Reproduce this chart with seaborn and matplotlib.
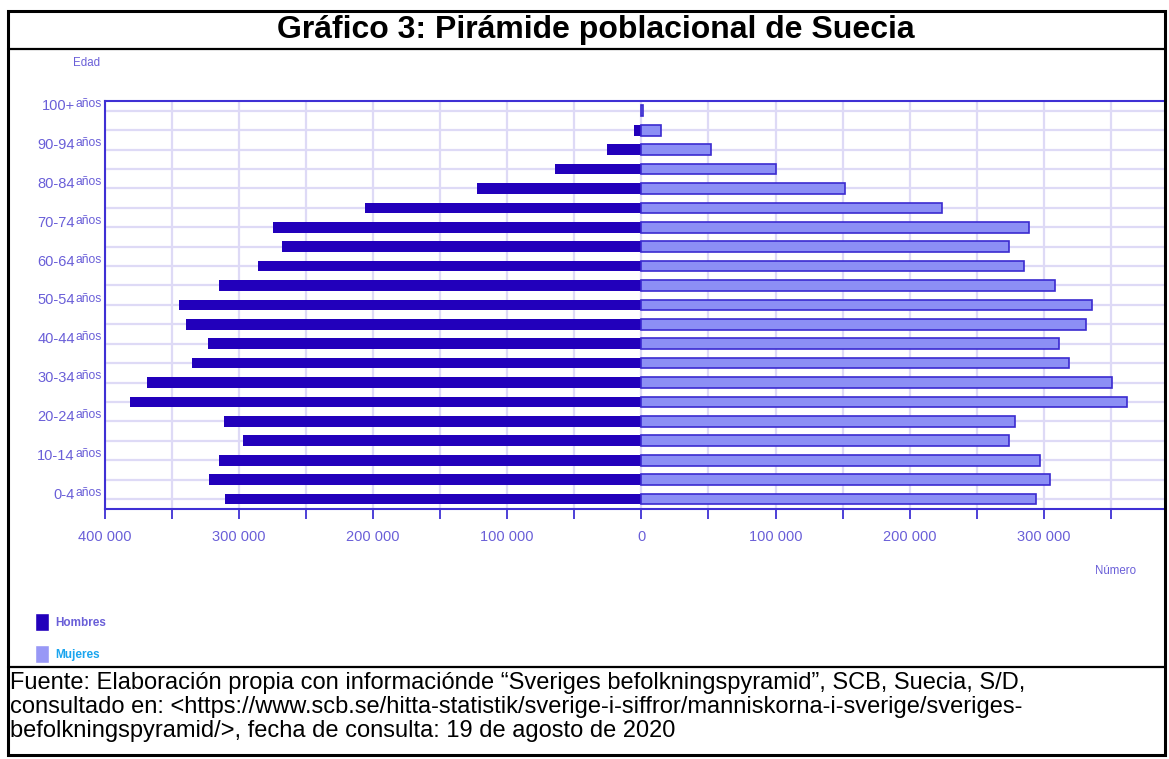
import pandas as pd
import seaborn as sns
import matplotlib.pyplot as plt
from matplotlib.patches import Patch, Rectangle
from matplotlib.lines import Line2D
from matplotlib.ticker import MultipleLocator, FuncFormatter
from matplotlib.transforms import ScaledTranslation

# data (persons per age group)
age_groups = ['0-4', '5-9', '10-14', '15-19', '20-24', '25-29', '30-34', '35-39',
              '40-44', '45-49', '50-54', '55-59', '60-64', '65-69', '70-74',
              '75-79', '80-84', '85-89', '90-94', '95-99', '100+']
men = [310400, 321900, 314400, 296600, 311200, 381200, 368100, 335000,
       323100, 339000, 344700, 314400, 285400, 267500, 274200,
       206200, 122400, 64300, 25600, 5700, 400]
women = [294300, 304600, 297300, 274000, 278500, 362100, 350800, 318900,
         311400, 331000, 335500, 308600, 285200, 274000, 288700,
         224000, 152000, 100200, 52000, 15000, 1600]

title = 'Gráfico 3: Pirámide poblacional de Suecia'
source_lines = [
    'Fuente: Elaboración propia con informaciónde “Sveriges befolkningspyramid”, SCB, Suecia, S/D,',
    'consultado en: <https://www.scb.se/hitta-statistik/sverige-i-siffror/manniskorna-i-sverige/sveriges-',
    'befolkningspyramid/>, fecha de consulta: 19 de agosto de 2020',
]

MEN = '#2200bb'
WOMEN = '#8c8ff5'
WOMEN_EDGE = '#3b2bd0'
SPINE = '#3f30d4'
GRID = '#dedaf6'
TXT = '#6a5fd8'

sns.set_style('white')
plt.rcParams['font.family'] = ['Liberation Sans', 'DejaVu Sans']

W, H = 1169, 759
fig = plt.figure(figsize=(W / 100, H / 100), dpi=100)


def fx(px):
    return px / W


def fy(py):
    return 1 - py / H


ax = fig.add_axes([fx(104.5), fy(509.3), (1164.7 - 104.5) / W, (509.3 - 100.7) / H])

df = pd.DataFrame({'Edad': age_groups, 'Hombres': men, 'Mujeres': women})
df['Hombres_neg'] = -df['Hombres']
order = age_groups[::-1]

sns.barplot(data=df, x='Hombres_neg', y='Edad', order=order, orient='h',
            color=MEN, saturation=1, width=0.55, linewidth=0, ax=ax)
sns.barplot(data=df, x='Mujeres', y='Edad', order=order, orient='h',
            color=WOMEN, saturation=1, width=0.55, linewidth=1.2,
            edgecolor=WOMEN_EDGE, ax=ax)

ax.set_xlim(-400000, 390000)
ax.set_ylim(len(order) - 0.47, -0.52)
ax.set_xlabel('')
ax.set_ylabel('')

ax.xaxis.set_major_locator(MultipleLocator(50000))
ax.xaxis.set_major_formatter(FuncFormatter(
    lambda v, p: f"{abs(int(round(v))):,}".replace(',', ' ') if round(v) % 100000 == 0 else ''))

ax.set_yticks(range(len(order)))
ax.set_yticklabels([a if i % 2 == 0 else '' for i, a in enumerate(order)])

ax.tick_params(axis='x', bottom=True, direction='out', length=7.2, width=1.3,
               color=SPINE, labelcolor=TXT, labelsize=10.5, pad=8)
ax.tick_params(axis='y', left=False, length=0, labelcolor=TXT, labelsize=10.5, pad=21.5)

# labels sit a little above their row
for lab in ax.get_yticklabels():
    lab.set_transform(lab.get_transform() + ScaledTranslation(0, 6 / 100, fig.dpi_scale_trans))

for i, a in enumerate(order):
    if i % 2 == 0:
        ax.annotate('años', xy=(0, i), xycoords=('axes fraction', 'data'),
                    xytext=(-2.2, 4.6), textcoords='offset points',
                    ha='right', va='center', fontsize=8.7, color=TXT,
                    annotation_clip=False)

ax.grid(True, color=GRID, lw=1.6)
ax.set_axisbelow(True)
ax.spines['right'].set_visible(False)
for s in ['left', 'top', 'bottom']:
    ax.spines[s].set_color(SPINE)
    ax.spines[s].set_linewidth(1.5)

fig.text(fx(100), fy(63), 'Edad', ha='right', va='center', fontsize=8.3, color=TXT)
fig.text(fx(1136), fy(571), 'Número', ha='right', va='center', fontsize=8.3, color=TXT)

handles = [Patch(facecolor=MEN, label='Hombres'), Patch(facecolor='#9898f6', label='Mujeres')]
leg = fig.legend(handles=handles, loc='upper left', bbox_to_anchor=(fx(35), fy(613)),
                 frameon=False, borderpad=0, borderaxespad=0, handlelength=1.19,
                 handleheight=2.0, handletextpad=0.5, labelspacing=1.15,
                 prop={'weight': 'bold', 'size': 8.5})
leg.get_texts()[0].set_color(TXT)
leg.get_texts()[1].set_color('#1aa5ef')

# document frame around the figure
fig.add_artist(Rectangle((fx(7.5), fy(755)), fx(1165) - fx(7.5), fy(10.5) - fy(755),
                         fill=False, ec='black', lw=2.2, transform=fig.transFigure))
for yy in [48.5, 667]:
    fig.add_artist(Line2D([fx(7.5), fx(1165)], [fy(yy), fy(yy)], color='black', lw=1.6,
                          transform=fig.transFigure))

fig.text(fx(596), fy(30), title, ha='center', va='center', fontsize=23, weight='bold',
         color='black')
for yy, line in zip([683, 707, 731], source_lines):
    fig.text(fx(10), fy(yy), line, ha='left', va='center', fontsize=17, color='black')

fig.savefig('out.png', dpi=100)
